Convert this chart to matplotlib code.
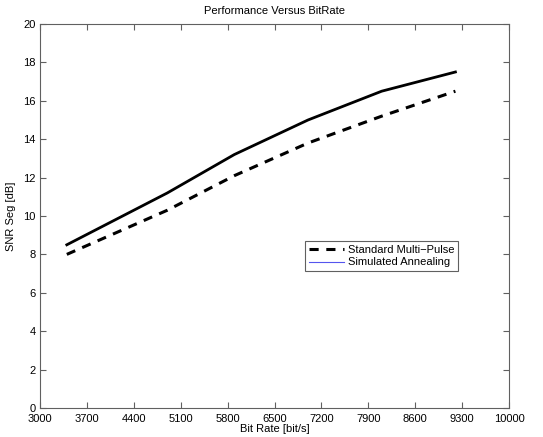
import matplotlib.pyplot as plt
from matplotlib.lines import Line2D

plt.rcParams['font.family'] = ['Liberation Sans', 'DejaVu Sans']
plt.rcParams['font.size'] = 8

# Bit rates [bit/s] and segmental SNR [dB]
bit_rate = [3400, 4900, 5900, 7000, 8100, 9200]
snr_multipulse = [8.0, 10.3, 12.1, 13.8, 15.2, 16.5]
snr_annealing = [8.5, 11.2, 13.2, 15.0, 16.5, 17.5]

x_ticks = [3000, 3700, 4400, 5100, 5800, 6500, 7200, 7900, 8600, 9300, 10000]
y_ticks = list(range(0, 21, 2))

fig = plt.figure(figsize=(5.43, 4.37), dpi=100)
ax = fig.add_axes([0.0737, 0.0664, 0.8637, 0.8787])

ax.plot(bit_rate, snr_multipulse, color='black', linestyle=(0, (3, 2.5)), linewidth=2.2)
ax.plot(bit_rate, snr_annealing, color='black', linestyle='-', linewidth=2.0)

ax.set_xlim(3000, 10000)
ax.set_ylim(0, 20)
ax.set_xticks(x_ticks)
ax.set_yticks(y_ticks)
ax.tick_params(direction='in', top=True, right=True, length=4, width=0.8,
               color='#606060', labelsize=8)
ax.tick_params(axis='x', pad=4)
ax.tick_params(axis='y', pad=3)
for s in ax.spines.values():
    s.set_color('#606060')
    s.set_linewidth(0.8)

ax.set_title('Performance Versus BitRate', fontsize=8, pad=7)
ax.set_xlabel('Bit Rate [bit/s]', fontsize=8, labelpad=0)
ax.set_ylabel('SNR Seg [dB]', fontsize=8, labelpad=5)

# legend as it appears in the original (thin blue line for the second entry)
handles = [
    Line2D([], [], color='black', linestyle=(0, (3, 2.5)), linewidth=2.2),
    Line2D([], [], color='#5555ee', linestyle='-', linewidth=0.8),
]
leg = ax.legend(handles, ['Standard Multi\u2212Pulse', 'Simulated Annealing'],
                loc='upper left', bbox_to_anchor=(0.565, 0.434), fontsize=8,
                fancybox=False, framealpha=1, edgecolor='#606060',
                handlelength=3.2, handletextpad=0.3, borderpad=0.35,
                labelspacing=0.2, borderaxespad=0)
leg.get_frame().set_linewidth(0.8)

plt.savefig('out.png', dpi=100)
